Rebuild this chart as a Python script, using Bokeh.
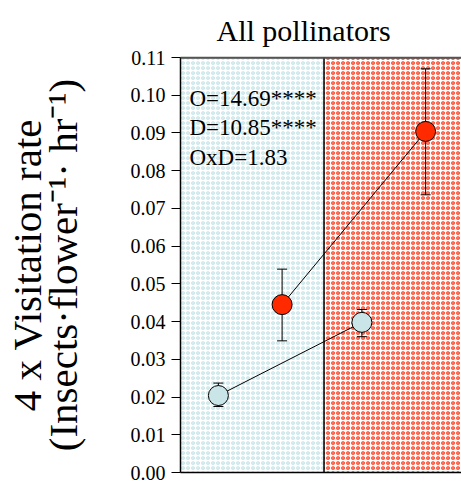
from bokeh.plotting import figure
from bokeh.models import Range1d, LinearAxis, FixedTicker, PrintfTickFormatter, Span
from bokeh.core.properties import value
from bokeh.embed import file_html
from bokeh.resources import INLINE

# Mean visitation rate per period (left panel = first period, right panel = second)
pale_mean = [0.0204, 0.0398]
pale_upper = [0.0237, 0.0432]
pale_lower = [0.0175, 0.0360]

red_mean = [0.0445, 0.0904]
red_upper = [0.0539, 0.1070]
red_lower = [0.0349, 0.0736]

y_ticks = [0.00, 0.01, 0.02, 0.03, 0.04, 0.05, 0.06, 0.07, 0.08, 0.09, 0.10, 0.11]
stats_lines = ["O=14.69****", "D=10.85****", "OxD=1.83"]

FONT = "Liberation Serif"
PALE = "#c9e5e8"
RED = "#ff2a00"
DOT_PALE = "#bfe0e4"
DOT_RED = "#ff2200"

# each period occupies one unit on the x axis; treatments sit at fixed offsets
pale_x = [i + 0.264 for i in range(len(pale_mean))]
red_x = [i + 0.708 for i in range(len(red_mean))]

p = figure(width=461, height=482,
           x_range=Range1d(0, 1.958), y_range=Range1d(0, 0.11),
           output_backend="svg", toolbar_location=None,
           min_border_left=179, min_border_right=0,
           min_border_top=57, min_border_bottom=10,
           outline_line_color=None,
           background_fill_color="white", border_fill_color="white")
p.grid.visible = False

# dotted background panels for the two periods
p.quad(left=[0], right=[1], bottom=[0], top=[0.11], fill_color="white",
       line_color=None, hatch_pattern="ring", hatch_color=DOT_PALE,
       hatch_scale=5, hatch_weight=1.2)
p.quad(left=[1], right=[2], bottom=[0], top=[0.11], fill_color="white",
       line_color=None, hatch_pattern="ring", hatch_color=DOT_RED,
       hatch_scale=5, hatch_weight=1.2)

p.add_layout(Span(location=1, dimension="height", line_color="black", line_width=1.5))
p.add_layout(Span(location=0.11, dimension="width", line_color="#555555", line_width=2.5))

# error bars
for xs, lo, hi in ((pale_x, pale_lower, pale_upper), (red_x, red_lower, red_upper)):
    p.segment(x0=xs, y0=lo, x1=xs, y1=hi, line_color="black", line_width=1)
    p.scatter(xs, hi, marker="dash", size=10, line_color="black", line_width=1)
    p.scatter(xs, lo, marker="dash", size=10, line_color="black", line_width=1)

# connecting lines and means
p.line(pale_x, pale_mean, line_color="black", line_width=1)
p.line(red_x, red_mean, line_color="black", line_width=1)
p.scatter(pale_x, pale_mean, size=20, fill_color=PALE, line_color="black", line_width=1)
p.scatter(red_x, red_mean, size=20, fill_color=RED, line_color="black", line_width=1)

# ANOVA results
p.text(x=[0.0625] * 3, y=[0.0991, 0.0914, 0.0835], text=stats_lines,
       text_font=value(FONT), text_font_size="23px", text_color="black",
       text_baseline="middle", text_align="left")

# bottom and top frame edges: axis lines only
p.xaxis.ticker = FixedTicker(ticks=[])
p.xaxis.major_tick_line_color = None
p.xaxis.minor_tick_line_color = None
p.xaxis.major_label_text_font_size = "0px"
p.xaxis.major_tick_out = 0
p.xaxis.major_label_standoff = 0
p.xaxis.axis_line_color = "black"
p.xaxis.axis_line_width = 1.5

top_edge = LinearAxis(ticker=FixedTicker(ticks=[]), axis_line_color="#555555",
                      axis_line_width=1.5, major_tick_line_color=None,
                      minor_tick_line_color=None, major_label_text_font_size="0px",
                      major_tick_out=0, major_label_standoff=0)
p.add_layout(top_edge, "above")

# y axis with ticks and the unit line of the label
ya = p.yaxis[0]
ya.ticker = FixedTicker(ticks=y_ticks)
ya.formatter = PrintfTickFormatter(format="%.2f")
ya.major_label_text_font = FONT
ya.major_label_text_font_size = "20px"
ya.major_label_text_color = "black"
ya.major_tick_out = 9
ya.major_tick_in = 0
ya.major_label_standoff = 6
ya.minor_tick_line_color = None
ya.axis_line_color = "black"
ya.axis_line_width = 1.5
ya.major_tick_line_color = "black"
ya.axis_label = "(Insects\u00b7flower\u207b\u00b9\u00b7 hr\u207b\u00b9)"
ya.axis_label_text_font = FONT
ya.axis_label_text_font_size = "41px"
ya.axis_label_text_font_style = "normal"
ya.axis_label_text_color = "black"
ya.axis_label_standoff = 42

outer = LinearAxis(ticker=FixedTicker(ticks=[]), axis_label="4 x Visitation rate",
                   axis_line_color=None, major_tick_line_color=None,
                   minor_tick_line_color=None, major_label_text_font_size="0px",
                   major_tick_out=0, major_label_standoff=0,
                   axis_label_text_font=FONT, axis_label_text_font_size="41px",
                   axis_label_text_font_style="normal", axis_label_text_color="black",
                   axis_label_standoff=-13)
p.add_layout(outer, "left")

p.title.text = "All pollinators"
p.title.text_font = FONT
p.title.text_font_size = "30px"
p.title.text_font_style = "normal"
p.title.text_color = "black"
p.title.align = "left"
p.title.offset = 36
p.title.text_line_height = 0.8
p.title.standoff = 21

open("out.html", "w").write(file_html(p, INLINE))
